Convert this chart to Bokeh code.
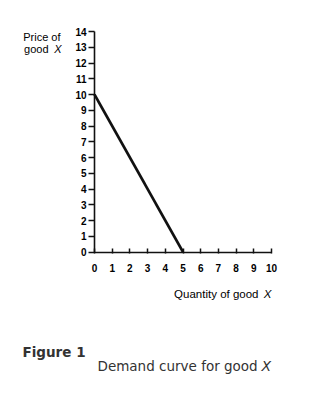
from bokeh.plotting import figure
from bokeh.models import Range1d, Label, FixedTicker, LinearAxis
from bokeh.embed import file_html
from bokeh.resources import INLINE

quantity = [0, 5, 10]
price = [10, 0, 0]
x_ticks = list(range(0, 11))
y_ticks = list(range(0, 15))

W, H = 323, 393
PX0, PXU = 94.0, 17.7
PY0, PYU = 251.5, 15.75

def dx(px):
    return (px - PX0) / PXU

def dy(py):
    return (PY0 - py) / PYU

p = figure(width=W, height=H, output_backend="svg", toolbar_location=None,
           x_range=Range1d(dx(0), dx(W)), y_range=Range1d(dy(H), dy(0)),
           x_axis_location=None, y_axis_location=None,
           min_border_left=0, min_border_right=0, min_border_top=0, min_border_bottom=0)
p.outline_line_color = None
p.grid.visible = False
p.background_fill_color = "white"
p.border_fill_color = "white"

xaxis = LinearAxis(fixed_location=0, bounds=(0, 10), ticker=FixedTicker(ticks=x_ticks))
yaxis = LinearAxis(fixed_location=0, bounds=(0, 14), ticker=FixedTicker(ticks=y_ticks))
p.add_layout(xaxis, "below")
p.add_layout(yaxis, "left")

for ax in (xaxis, yaxis):
    ax.axis_line_color = "#111111"
    ax.axis_line_width = 1.6
    ax.major_tick_line_color = "#111111"
    ax.major_tick_line_width = 1.5
    ax.minor_tick_line_color = None
    ax.major_label_text_font = "Liberation Sans"
    ax.major_label_text_font_style = "bold"
    ax.major_label_text_font_size = "10px"
    ax.major_label_text_color = "#000000"

xaxis.major_tick_in = 4
xaxis.major_tick_out = 1
xaxis.major_label_standoff = 11
yaxis.major_tick_in = 0
yaxis.major_tick_out = 6
yaxis.major_label_standoff = 2

p.line(quantity[:2], price[:2], line_color="#111111", line_width=2.6)

def lab(text, px, py, align="left", style="normal", size="11px", font="Liberation Sans", color="#000000"):
    p.add_layout(Label(x=dx(px), y=dy(py), text=text, text_align=align, text_baseline="alphabetic",
                       text_font=font, text_font_style=style, text_font_size=size, text_color=color))

lab("Price of", 60, 36, align="right")
lab("good", 48, 48, align="right")
lab("X", 61, 48, align="right", style="italic")
lab("Quantity of good", 258, 293, align="right", size="11.5px")
lab("X", 271, 293, align="right", style="italic", size="11.5px")
lab("Figure 1", 22, 351, font="DejaVu Sans", style="bold", size="13.5px", color="#333333")
lab("Demand curve for good", 97, 365, font="DejaVu Sans", size="13.5px", color="#333333")
lab("X", 261, 365, font="DejaVu Sans", style="italic", size="14px", color="#333333")

open("out.html", "w").write(file_html(p, INLINE))
